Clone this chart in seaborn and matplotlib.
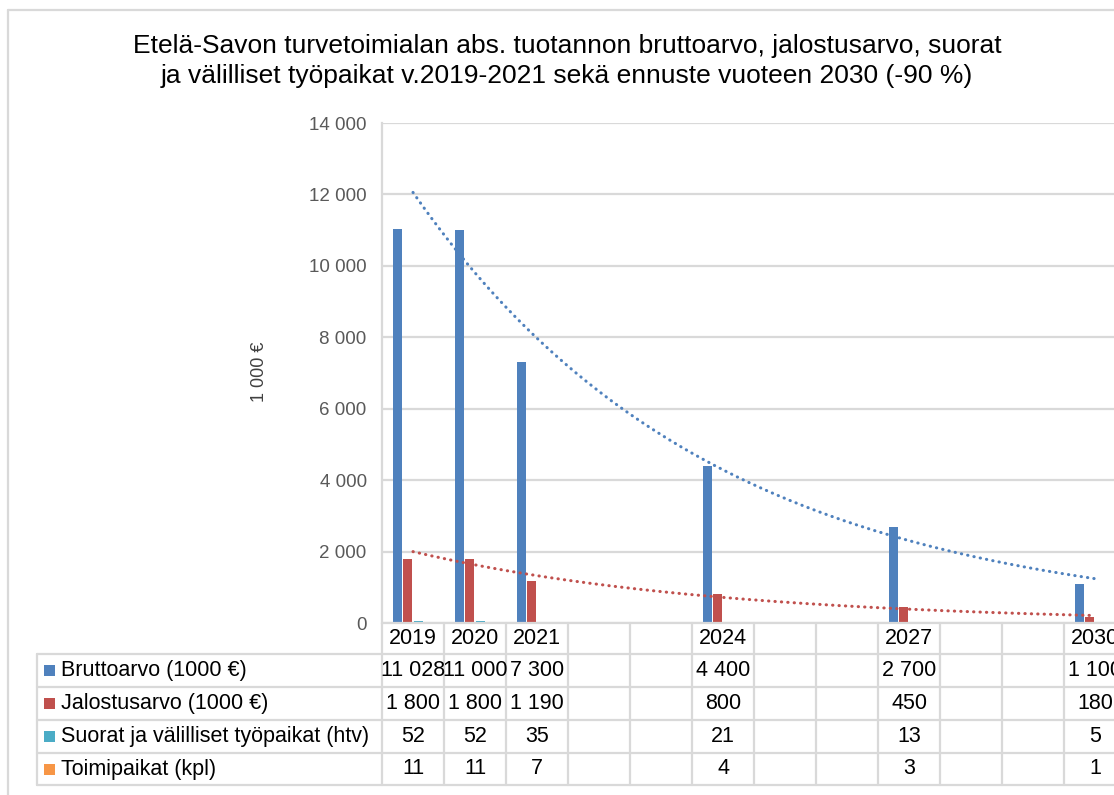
#kirjastot
import numpy as np
import pandas as pd
import seaborn as sns
import matplotlib.pyplot as plt

# tiedot kuvasta
vuodet = ["2019", "2020", "2021", "", "", "2024", "", "", "2027", "", "", "2030"]
bruttoarvo = [11028, 11000, 7300, None, None, 4400, None, None, 2700, None, None, 1100]
jalostusarvo = [1800, 1800, 1190, None, None, 800, None, None, 450, None, None, 180]
tyopaikat = [52, 52, 35, None, None, 21, None, None, 13, None, None, 5]
toimipaikat = [11, 11, 7, None, None, 4, None, None, 3, None, None, 1]

sarjat = ["Bruttoarvo (1000 €)", "Jalostusarvo (1000 €)",
          "Suorat ja välilliset työpaikat (htv)", "Toimipaikat (kpl)"]
varit = ["#4F81BD", "#C0504D", "#4BACC6", "#F79646"]
arvot = [bruttoarvo, jalostusarvo, tyopaikat, toimipaikat]

otsikko = ("Etelä-Savon turvetoimialan abs. tuotannon bruttoarvo, jalostusarvo, suorat\n"
           "ja välilliset työpaikat v.2019-2021 sekä ennuste vuoteen 2030 (-90 %)")

sns.set_style("white")
plt.rcParams["font.family"] = ["Liberation Sans", "DejaVu Sans"]

W, H = 1114, 795
fig = plt.figure(figsize=(W / 100, H / 100), dpi=100)
ax = fig.add_axes([382 / W, (H - 623) / H, 744 / W, 500 / H])

rivit = []
for sarja, lista in zip(sarjat, arvot):
    for i, v in enumerate(lista):
        if v is not None:
            rivit.append({"pos": i, "arvo": v, "sarja": sarja})
df = pd.DataFrame(rivit)

sns.barplot(data=df, x="pos", y="arvo", hue="sarja", order=list(range(12)),
            hue_order=sarjat, palette=varit, saturation=1, width=0.68, gap=0.12,
            linewidth=0, errorbar=None, legend=False, ax=ax, zorder=3)

# eksponentiaaliset trendiviivat (kuten Excel)
for lista, vari in [(bruttoarvo, varit[0]), (jalostusarvo, varit[1])]:
    s = pd.Series(lista, dtype=float)
    ok = s.notna().values
    x = np.arange(1, 13)[ok]
    k, b = np.polyfit(x, np.log(s[ok].values), 1)
    xx = np.linspace(1, 12, 300)
    ax.plot(xx - 1, np.exp(k * xx + b), color=vari, lw=2.2,
            linestyle=(0, (0.1, 2)), dash_capstyle="round", zorder=4)

ax.set_xlim(-0.5, 11.5)
ax.set_ylim(0, 14000)
ax.set_yticks(range(0, 14001, 2000))
ax.set_yticklabels([f"{t:,}".replace(",", " ") for t in range(0, 14001, 2000)])
ax.tick_params(axis="y", colors="#595959", labelsize=13.5, length=0, pad=11)
ax.set_xticks([])
ax.set_xlabel("")
ax.set_ylabel("")
ax.grid(axis="y", color="#D9D9D9", lw=1.6)
ax.set_axisbelow(True)
for sp in ["top", "right", "bottom"]:
    ax.spines[sp].set_visible(False)
ax.spines["left"].set_color("#D9D9D9")
ax.spines["left"].set_linewidth(1.6)

# taulukko ja kehykset pikselikoordinaateissa
fa = fig.add_axes([0, 0, 1, 1], facecolor="none")
fa.set_xlim(0, W)
fa.set_ylim(0, H)
fa.axis("off")

harmaa = "#D9D9D9"
fa.plot([8, 8], [0, H - 10], color=harmaa, lw=1.6)
fa.plot([8, W], [H - 10, H - 10], color=harmaa, lw=1.6)

reunat = [ax.transData.transform((i - 0.5, 0))[0] for i in range(13)]
rivi_y = [623, 654, 687, 720, 753, 785]
for i, y in enumerate(rivi_y):
    x0 = reunat[0] if i == 0 else 37
    fa.plot([x0, W + 20], [H - y, H - y], color=harmaa, lw=1.6)
for x in reunat:
    fa.plot([x, x], [H - rivi_y[0], H - rivi_y[-1]], color=harmaa, lw=1.6)
fa.plot([37, 37], [H - rivi_y[1], H - rivi_y[-1]], color=harmaa, lw=1.6)

koko = 15.5
keskit = [(reunat[i] + reunat[i + 1]) / 2 for i in range(12)]
for xc, vuosi in zip(keskit, vuodet):
    fa.text(xc, H - (rivi_y[0] + rivi_y[1]) / 2, vuosi, ha="center", va="center",
            fontsize=koko, color="black")

for r, (sarja, lista, vari) in enumerate(zip(sarjat, arvot, varit)):
    yc = H - (rivi_y[r + 1] + rivi_y[r + 2]) / 2
    fa.add_patch(plt.Rectangle((44, yc - 5.5), 11, 11, color=vari, lw=0))
    fa.text(61, yc, sarja, ha="left", va="center", fontsize=koko, color="black")
    for xc, v in zip(keskit, lista):
        if v is not None:
            fa.text(xc, yc, f"{v:,}".replace(",", " "), ha="center", va="center",
                    fontsize=koko, color="black")

fig.text(567 / W, (H - 61) / H, otsikko, ha="center", va="center",
         fontsize=19, color="black", linespacing=1.3)
fig.text(259 / W, (H - 372) / H, "1 000 €", rotation=90, ha="center", va="center",
         fontsize=13, color="#404040")

fig.savefig("out.png", dpi=100)
